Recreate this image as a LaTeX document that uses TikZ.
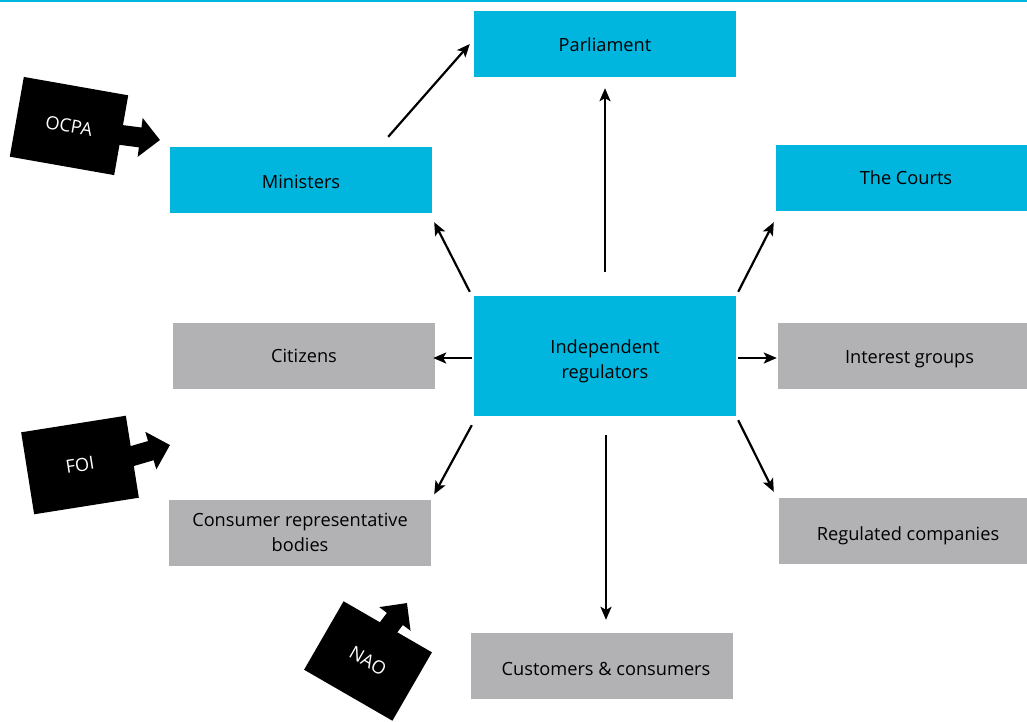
\documentclass[tikz,border=0pt]{standalone}
\usepackage{fontspec}
\setmainfont{Open Sans}
\usetikzlibrary{arrows.meta,calc}
\definecolor{regcyan}{RGB}{0,181,222}
\definecolor{reggray}{RGB}{178,178,180}
\newcommand\txtdown[2]{\raisebox{-#1}[\height][\depth]{#2}}
\begin{document}
\begin{tikzpicture}[x=1pt,y=-1pt,
  box/.style={minimum width=262pt, minimum height=66pt, inner sep=0pt, align=center, font=\fontsize{18.2}{25}\selectfont},
  cbox/.style={box, fill=regcyan},
  gbox/.style={box, fill=reggray},
  link/.style={line width=2.2pt, -{Stealth[length=13pt,width=11pt,inset=3pt]}},
  blk/.style={fill=black, text=white, minimum width=106pt, minimum height=81pt, inner sep=0pt, font=\fontsize{18.2}{22}\selectfont},
  barrow/.style={line width=20pt, -{Triangle[length=20pt,width=38pt]}}
]
\useasboundingbox (0,0) rectangle (1027,721);
\fill[regcyan] (0,0) rectangle (1027,1.8);

\node[cbox] (parl) at (605,44) {\txtdown{1pt}{Parliament}};
\node[cbox] (min) at (301,180) {\txtdown{1.5pt}{Ministers}};
\node[cbox, minimum width=251pt] (courts) at (901.5,178) {\hspace*{9pt}The Courts};
\node[cbox, minimum height=120pt] (reg) at (605,356) {\txtdown{5pt}{\begin{tabular}{@{}c@{}}Independent\\regulators\end{tabular}}};
\node[gbox] (cit) at (304,356) {Citizens};
\node[gbox, minimum width=249pt] (int) at (902.5,356) {\hspace*{14pt}\txtdown{3pt}{Interest groups}};
\node[gbox] (cons) at (300,532.5) {\txtdown{1.5pt}{\begin{tabular}{@{}c@{}}Consumer representative\\bodies\end{tabular}}};
\node[gbox, minimum width=248pt] (regco) at (903,531) {\hspace*{10pt}\txtdown{5pt}{Regulated companies}};
\node[gbox] (cust) at (602,666) {\hspace*{8pt}\txtdown{3pt}{Customers \& consumers}};

\draw[link] ([shift={(-44,-10)}]min.north east) -- ([shift={(-4,0)}]parl.west);
\draw[link] ([shift={(0,-24)}]reg.north) -- ([shift={(0,11)}]parl.south);
\draw[link] ([shift={(-4,-4)}]reg.north west) -- ([shift={(2,9)}]min.south east);
\draw[link] ([shift={(2,-4)}]reg.north east) -- ([shift={(-2,11)}]courts.south west);
\draw[link] ([shift={(-2,2)}]reg.west) -- ([shift={(-2,2)}]cit.east);
\draw[link] ([shift={(2,2)}]reg.east) -- ([shift={(-1,2)}]int.west);
\draw[link] ([shift={(-2,9)}]reg.south west) -- ([shift={(3,-5)}]cons.north east);
\draw[link] ([shift={(1,19)}]reg.south) -- ([shift={(4,-13)}]cust.north);
\draw[link] ([shift={(2,4)}]reg.south east) -- ([shift={(-5,-6)}]regco.north west);

\node[blk, rotate=-10] (ocpa) at (69,126) {OCPA};
\coordinate (ocpatip) at (160,140);
\draw[barrow] ($(ocpa.center)!0.9!(ocpa.east)$) -- (ocpatip);

\node[blk, rotate=9, minimum height=83pt] (foi) at (80,465) {FOI};
\coordinate (foitip) at (170,445);
\draw[barrow] ($(foi.center)!0.9!(foi.east)$) -- (foitip);

\node[blk, rotate=-30, minimum width=102pt, minimum height=79pt] (nao) at (368,661) {NAO};
\coordinate (naotip) at (407,603);
\draw[barrow] ($(nao.center)!0.8!(nao.north)$) -- (naotip);
\end{tikzpicture}
\end{document}
